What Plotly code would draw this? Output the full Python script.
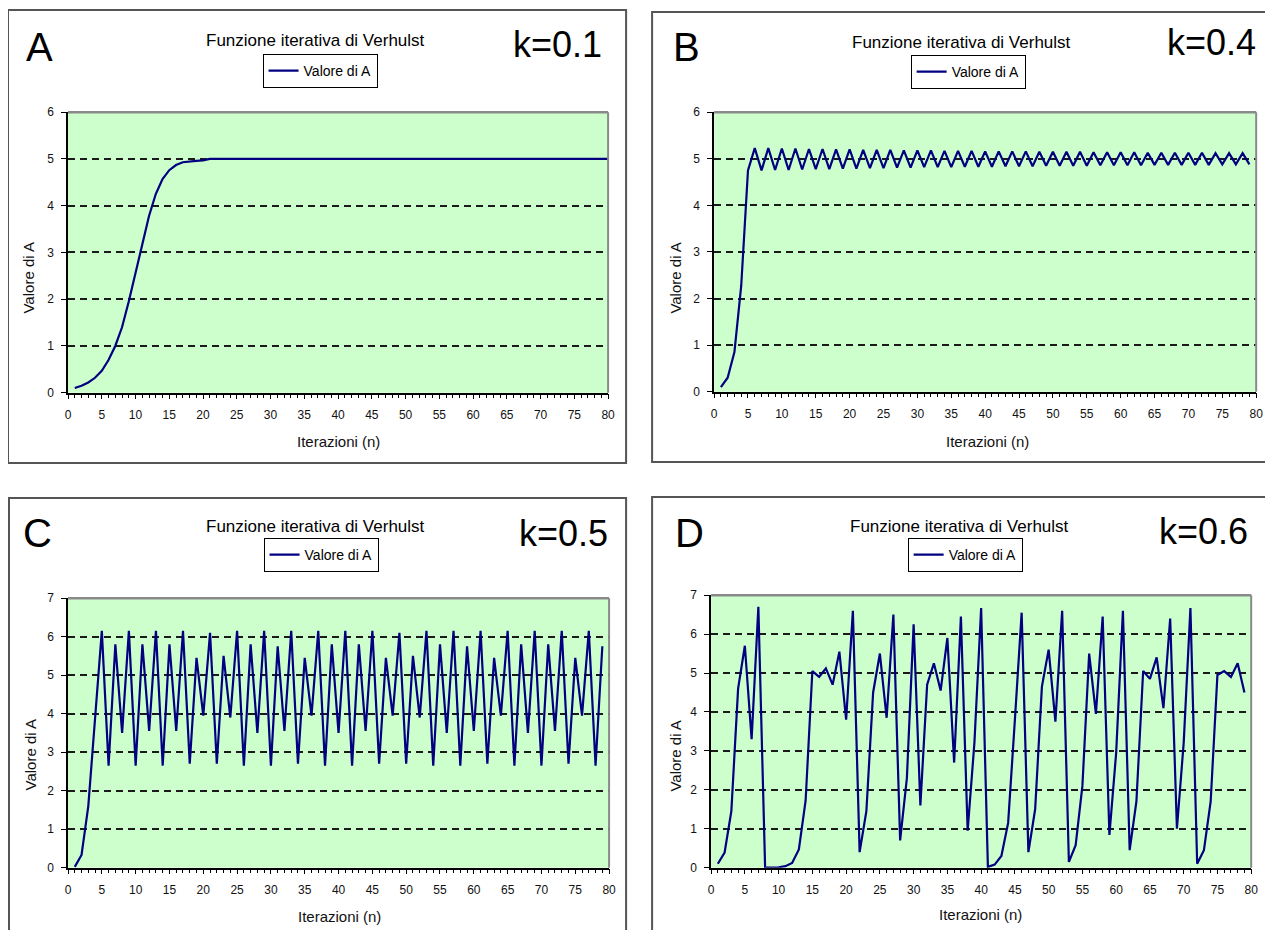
import plotly.graph_objects as go

W, H = 1273, 930
FONT = "Liberation Sans, Arial, sans-serif"

# ---------------- data ----------------
iter_A = list(range(1, 81))
iter_BCD = list(range(1, 80))

vals_A = [0.10, 0.15, 0.22, 0.32, 0.47, 0.70, 1.00, 1.40, 1.95, 2.55,
          3.20, 3.78, 4.25, 4.57, 4.76, 4.87, 4.93, 4.95, 4.96, 4.97,
          5.00, 5.00, 5.00, 5.00, 5.00, 5.00, 5.00, 5.00, 5.00, 5.00,
          5.00, 5.00, 5.00, 5.00, 5.00, 5.00, 5.00, 5.00, 5.00, 5.00,
          5.00, 5.00, 5.00, 5.00, 5.00, 5.00, 5.00, 5.00, 5.00, 5.00,
          5.00, 5.00, 5.00, 5.00, 5.00, 5.00, 5.00, 5.00, 5.00, 5.00,
          5.00, 5.00, 5.00, 5.00, 5.00, 5.00, 5.00, 5.00, 5.00, 5.00,
          5.00, 5.00, 5.00, 5.00, 5.00, 5.00, 5.00, 5.00, 5.00, 5.00]

vals_B = [0.10, 0.30, 0.85, 2.27, 4.75, 5.23, 4.75, 5.23, 4.76, 5.22,
          4.76, 5.22, 4.77, 5.21, 4.78, 5.21, 4.78, 5.20, 4.79, 5.20,
          4.79, 5.19, 4.80, 5.19, 4.80, 5.19, 4.81, 5.18, 4.81, 5.18,
          4.82, 5.18, 4.82, 5.17, 4.82, 5.17, 4.83, 5.17, 4.83, 5.16,
          4.83, 5.16, 4.84, 5.16, 4.84, 5.16, 4.84, 5.15, 4.85, 5.15,
          4.85, 5.15, 4.85, 5.15, 4.85, 5.14, 4.86, 5.14, 4.86, 5.14,
          4.86, 5.14, 4.86, 5.13, 4.87, 5.13, 4.87, 5.13, 4.87, 5.13,
          4.87, 5.13, 4.87, 5.12, 4.88, 5.12, 4.88, 5.12, 4.88]

vals_C = [0.02, 0.33, 1.60, 3.90, 6.15, 2.65, 5.80, 3.50, 6.15, 2.65,
          5.80, 3.55, 6.15, 2.65, 5.80, 3.55, 6.15, 2.70, 5.45, 3.95,
          6.10, 2.70, 5.50, 3.90, 6.15, 2.65, 5.80, 3.50, 6.15, 2.65,
          5.75, 3.55, 6.15, 2.70, 5.45, 3.95, 6.15, 2.65, 5.80, 3.50,
          6.15, 2.65, 5.80, 3.55, 6.15, 2.70, 5.45, 3.95, 6.10, 2.70,
          5.50, 3.90, 6.15, 2.65, 5.80, 3.50, 6.15, 2.65, 5.75, 3.55,
          6.15, 2.70, 5.45, 3.95, 6.15, 2.65, 5.80, 3.50, 6.15, 2.65,
          5.80, 3.55, 6.15, 2.70, 5.45, 3.95, 6.15, 2.65, 5.75]

vals_D = [0.10, 0.39, 1.45, 4.60, 5.70, 3.30, 6.70, 0.00, 0.00, 0.01,
          0.04, 0.12, 0.47, 1.72, 5.05, 4.90, 5.12, 4.70, 5.55, 3.80,
          6.60, 0.40, 1.45, 4.50, 5.50, 3.85, 6.50, 0.70, 2.30, 6.25,
          1.60, 4.70, 5.25, 4.55, 5.90, 2.70, 6.45, 0.95, 3.20, 6.67,
          0.02, 0.08, 0.30, 1.15, 3.80, 6.55, 0.40, 1.50, 4.65, 5.60,
          3.75, 6.60, 0.15, 0.58, 2.10, 5.50, 3.95, 6.45, 0.84, 2.95,
          6.60, 0.45, 1.70, 5.05, 4.85, 5.40, 4.10, 6.40, 1.00, 3.20,
          6.67, 0.10, 0.45, 1.70, 4.95, 5.05, 4.90, 5.25, 4.50]

panel_letters = ["A", "B", "C", "D"]
k_labels = ["k=0.1", "k=0.4", "k=0.5", "k=0.6"]
y_max = [6, 6, 7, 7]
chart_title = "Funzione iterativa di Verhulst"
series_name = "Valore di A"
x_title = "Iterazioni (n)"
y_title = "Valore di A"
x_range = [0, 80]

series_x = [iter_A, iter_BCD, iter_BCD, iter_BCD]
series_y = [vals_A, vals_B, vals_C, vals_D]

# ---------------- layout (pixel positions as seen in the photographed page) ----------------
plots = [(68, 608, 112, 392), (714, 1256, 112, 391),
         (68, 609, 597, 866), (711, 1251, 594, 866)]
boxes = [(8, 626, 10, 462), (652, 1269, 12, 461),
         (9, 626, 497, 960), (652, 1268, 496, 960)]
letter_pos = [(39, 47), (686, 47), (37, 532), (689, 532)]
k_pos = [(557, 44), (1211, 42), (563, 532), (1203, 530)]
title_pos = [(315, 40), (961, 42), (315, 525), (959, 525)]
legend_pos = [(320, 71), (968, 72), (321, 554), (965, 554)]
ytitle_pos = [(29, 278), (675, 278), (30, 754), (675, 755)]
xtitle_pos = [(338, 441), (987, 441), (339, 915), (980, 913)]

# photographed position = SX*figure_px + OX (measured from earlier runs)
SX, OX = 0.992, 11.0
SY, OY = 0.983, 15.0


def px(x):
    return ((x - OX) / SX) / W


def py(y):
    return 1 - ((y - OY) / SY) / H


fig = go.Figure()
shapes = []
annotations = []
layout = dict(
    width=W, height=H,
    margin=dict(l=0, r=0, t=0, b=0),
    paper_bgcolor="white",
    plot_bgcolor="#CCFFCC",
    font=dict(family=FONT, color="black"),
    showlegend=True,
)

for i in range(4):
    sfx = "" if i == 0 else str(i + 1)
    xa, ya = "x" + sfx, "y" + sfx
    lg = "legend" + sfx
    l, r, t, b = plots[i]

    fig.add_trace(go.Scatter(
        x=series_x[i], y=series_y[i], mode="lines", name=series_name,
        line=dict(color="#000080", width=2.2),
        xaxis=xa, yaxis=ya, legend=lg, hoverinfo="skip"))

    layout["xaxis" + sfx] = dict(
        domain=[px(l), px(r)], anchor=ya, range=x_range,
        tick0=0, dtick=5, ticks="outside", ticklen=5, tickwidth=1,
        tickcolor="black", ticklabelstandoff=5,
        minor=dict(dtick=1, ticks="outside", ticklen=4, tickcolor="black",
                   tickwidth=1, showgrid=False),
        showline=True, linecolor="black", linewidth=1.5,
        showgrid=False, zeroline=False, fixedrange=True,
        tickfont=dict(size=12, family=FONT, color="#111"))
    layout["yaxis" + sfx] = dict(
        domain=[py(b), py(t)], anchor=xa, range=[0, y_max[i]],
        tick0=0, dtick=1, ticks="outside", ticklen=5, tickwidth=1,
        tickcolor="black", ticklabelstandoff=5,
        showline=True, linecolor="black", linewidth=1.5,
        showgrid=True, gridcolor="#1a1a1a", gridwidth=2,
        griddash="7px,5px", zeroline=False, fixedrange=True,
        tickfont=dict(size=12, family=FONT, color="#111"))

    # plot-area border (top / right)
    shapes.append(dict(type="line", xref=xa + " domain", yref=ya + " domain",
                       x0=0, x1=1, y0=1, y1=1, layer="above",
                       line=dict(color="#8a8a8a", width=2.5)))
    shapes.append(dict(type="line", xref=xa + " domain", yref=ya + " domain",
                       x0=1, x1=1, y0=0, y1=1, layer="above",
                       line=dict(color="#8a8a8a", width=2)))
    # panel frame
    bl, br, bt, bb = boxes[i]
    shapes.append(dict(type="rect", xref="paper", yref="paper",
                       x0=px(bl), x1=px(br), y0=py(bb), y1=py(bt),
                       line=dict(color="#555555", width=2)))

    layout[lg] = dict(
        x=px(legend_pos[i][0]), y=py(legend_pos[i][1]),
        xanchor="center", yanchor="middle",
        bgcolor="white", bordercolor="black", borderwidth=1,
        font=dict(size=14, family=FONT, color="black"),
        itemwidth=30, tracegroupgap=0)

    annotations += [
        dict(text=panel_letters[i], x=px(letter_pos[i][0]), y=py(letter_pos[i][1]),
             xref="paper", yref="paper", showarrow=False,
             xanchor="center", yanchor="middle",
             font=dict(size=40, family=FONT, color="black")),
        dict(text=k_labels[i], x=px(k_pos[i][0]), y=py(k_pos[i][1]),
             xref="paper", yref="paper", showarrow=False,
             xanchor="center", yanchor="middle",
             font=dict(size=36, family=FONT, color="black")),
        dict(text=chart_title, x=px(title_pos[i][0]), y=py(title_pos[i][1]),
             xref="paper", yref="paper", showarrow=False,
             xanchor="center", yanchor="middle",
             font=dict(size=17, family=FONT, color="black")),
        dict(text=y_title, x=px(ytitle_pos[i][0]), y=py(ytitle_pos[i][1]),
             xref="paper", yref="paper", showarrow=False, textangle=-90,
             xanchor="center", yanchor="middle",
             font=dict(size=15, family=FONT, color="#111")),
        dict(text=x_title, x=px(xtitle_pos[i][0]), y=py(xtitle_pos[i][1]),
             xref="paper", yref="paper", showarrow=False,
             xanchor="center", yanchor="middle",
             font=dict(size=15, family=FONT, color="#111")),
    ]

layout["shapes"] = shapes
layout["annotations"] = annotations
fig.update_layout(**layout)

fig.write_html("out.html", config={"displayModeBar": False})
